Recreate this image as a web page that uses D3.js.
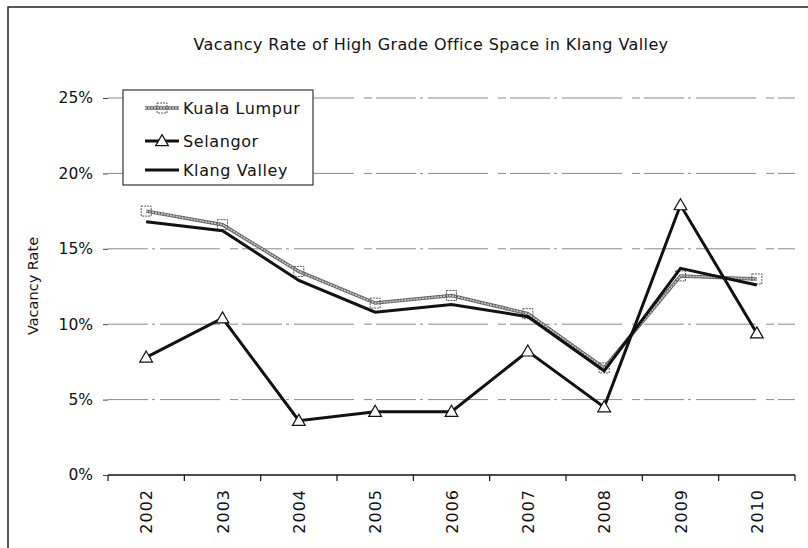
<!DOCTYPE html>
<html>
<head>
<meta charset="utf-8">
<script src="https://cdn.jsdelivr.net/npm/d3@7"></script>
<style>
  body { margin: 0; background: #fff; }
  text { font-family: "DejaVu Sans", "Liberation Sans", sans-serif; fill: #111; }
</style>
</head>
<body>
<script>
var years = ["2002", "2003", "2004", "2005", "2006", "2007", "2008", "2009", "2010"];
var kualaLumpur = [17.5, 16.6, 13.5, 11.4, 11.9, 10.7, 7.1, 13.2, 13.0];
var selangor = [7.8, 10.4, 3.6, 4.2, 4.2, 8.2, 4.5, 17.9, 9.4];
var klangValley = [16.8, 16.2, 12.9, 10.8, 11.3, 10.5, 6.9, 13.7, 12.6];
var yTicks = [0, 5, 10, 15, 20, 25];

var W = 808, H = 548;
var margin = { top: 98, right: 13, bottom: 73, left: 108 },
    width = W - margin.left - margin.right,
    height = H - margin.top - margin.bottom;

var svg = d3.select("body").append("svg")
    .attr("width", W)
    .attr("height", H);

// outer frame
svg.append("rect")
    .attr("x", 8).attr("y", 7)
    .attr("width", W + 10).attr("height", H + 10)
    .attr("fill", "none")
    .attr("stroke", "#222")
    .attr("stroke-width", 1.5);

svg.append("text")
    .attr("x", 431).attr("y", 50)
    .attr("text-anchor", "middle")
    .style("font-size", "16px")
    .style("letter-spacing", "0.4px")
    .text("Vacancy Rate of High Grade Office Space in Klang Valley");

var g = svg.append("g")
    .attr("transform", "translate(" + margin.left + "," + margin.top + ")");

var x = d3.scaleBand().domain(years).range([0, width]);
var y = d3.scaleLinear().domain([0, 25]).range([height, 0]);

// gridlines
g.append("g").selectAll("line")
    .data(yTicks.filter(function (d) { return d > 0; }))
    .enter().append("line")
    .attr("x1", 0).attr("x2", width)
    .attr("y1", function (d) { return y(d); })
    .attr("y2", function (d) { return y(d); })
    .attr("stroke", "#888")
    .attr("stroke-width", 1)
    .attr("stroke-dasharray", "40,4,3,5,60,10,8,4");

// y axis (no domain line)
var yAxis = d3.axisLeft(y).tickValues(yTicks)
    .tickFormat(function (d) { return d + "%"; })
    .tickSize(5).tickPadding(10);
var yg = g.append("g").call(yAxis);
yg.select(".domain").remove();
yg.selectAll("line").attr("stroke", "#444");
yg.selectAll("text").style("font-size", "15.5px").style("font-family", "DejaVu Sans, sans-serif");

// x axis with ticks on band boundaries
g.append("line")
    .attr("x1", 0).attr("x2", width)
    .attr("y1", height).attr("y2", height)
    .attr("stroke", "#111").attr("stroke-width", 1.5);
g.append("g").selectAll("line")
    .data(years.concat(["end"]))
    .enter().append("line")
    .attr("x1", function (d, i) { return i * x.step(); })
    .attr("x2", function (d, i) { return i * x.step(); })
    .attr("y1", height).attr("y2", height + 6)
    .attr("stroke", "#111").attr("stroke-width", 1.2);
g.append("g").selectAll("text")
    .data(years)
    .enter().append("text")
    .attr("transform", function (d) {
        return "translate(" + (x(d) + x.bandwidth() / 2 + 6) + "," + (height + 14) + ") rotate(-90)";
    })
    .attr("text-anchor", "end")
    .style("font-size", "16px")
    .style("letter-spacing", "1px")
    .text(function (d) { return d; });

// y axis title
svg.append("text")
    .attr("transform", "translate(38,286) rotate(-90)")
    .attr("text-anchor", "middle")
    .style("font-size", "14.5px")
    .text("Vacancy Rate");

var line = d3.line()
    .x(function (d, i) { return x(years[i]) + x.bandwidth() / 2; })
    .y(function (d) { return y(d); });

// Kuala Lumpur: grey textured line with dashed square markers
g.append("path").datum(kualaLumpur)
    .attr("d", line).attr("fill", "none")
    .attr("stroke", "#666").attr("stroke-width", 3.5);
g.append("path").datum(kualaLumpur)
    .attr("d", line).attr("fill", "none")
    .attr("stroke", "#ccc").attr("stroke-width", 1.5)
    .attr("stroke-dasharray", "2,1");
g.append("g").selectAll("rect")
    .data(kualaLumpur)
    .enter().append("rect")
    .attr("x", function (d, i) { return x(years[i]) + x.bandwidth() / 2 - 5; })
    .attr("y", function (d) { return y(d) - 5; })
    .attr("width", 10).attr("height", 10)
    .attr("fill", "none")
    .attr("stroke", "#555").attr("stroke-width", 1)
    .attr("stroke-dasharray", "2,1");

// Klang Valley
g.append("path").datum(klangValley)
    .attr("d", line).attr("fill", "none")
    .attr("stroke", "#111").attr("stroke-width", 3);

// Selangor
g.append("path").datum(selangor)
    .attr("d", line).attr("fill", "none")
    .attr("stroke", "#111").attr("stroke-width", 3);
var tri = d3.symbol().type(d3.symbolTriangle).size(70);
g.append("g").selectAll("path")
    .data(selangor)
    .enter().append("path")
    .attr("d", tri)
    .attr("transform", function (d, i) {
        return "translate(" + (x(years[i]) + x.bandwidth() / 2) + "," + (y(d) + 1) + ")";
    })
    .attr("fill", "#fff")
    .attr("stroke", "#111").attr("stroke-width", 1.2);

// legend
var lg = svg.append("g").attr("transform", "translate(123,90)");
lg.append("rect")
    .attr("width", 190).attr("height", 95)
    .attr("fill", "#fff")
    .attr("stroke", "#333").attr("stroke-width", 1.2);
var legendItems = ["Kuala Lumpur", "Selangor", "Klang Valley"];
var rowY = [18, 51, 80];
legendItems.forEach(function (name, i) {
    var ly = rowY[i];
    if (i === 0) {
        lg.append("line").attr("x1", 22).attr("x2", 56).attr("y1", ly).attr("y2", ly)
            .attr("stroke", "#666").attr("stroke-width", 3.5);
        lg.append("line").attr("x1", 22).attr("x2", 56).attr("y1", ly).attr("y2", ly)
            .attr("stroke", "#ccc").attr("stroke-width", 1.5).attr("stroke-dasharray", "2,1");
        lg.append("rect").attr("x", 34).attr("y", ly - 5).attr("width", 10).attr("height", 10)
            .attr("fill", "none").attr("stroke", "#555").attr("stroke-dasharray", "2,1");
    } else {
        lg.append("line").attr("x1", 22).attr("x2", 56).attr("y1", ly).attr("y2", ly)
            .attr("stroke", "#111").attr("stroke-width", 3);
        if (i === 1) {
            lg.append("path").attr("d", tri)
                .attr("transform", "translate(39," + (ly + 1) + ")")
                .attr("fill", "#fff").attr("stroke", "#111").attr("stroke-width", 1.2);
        }
    }
    lg.append("text")
        .attr("x", 60).attr("y", ly + 6)
        .style("font-size", "16px")
        .style("letter-spacing", "0.6px")
        .text(name);
});
</script>
</body>
</html>
